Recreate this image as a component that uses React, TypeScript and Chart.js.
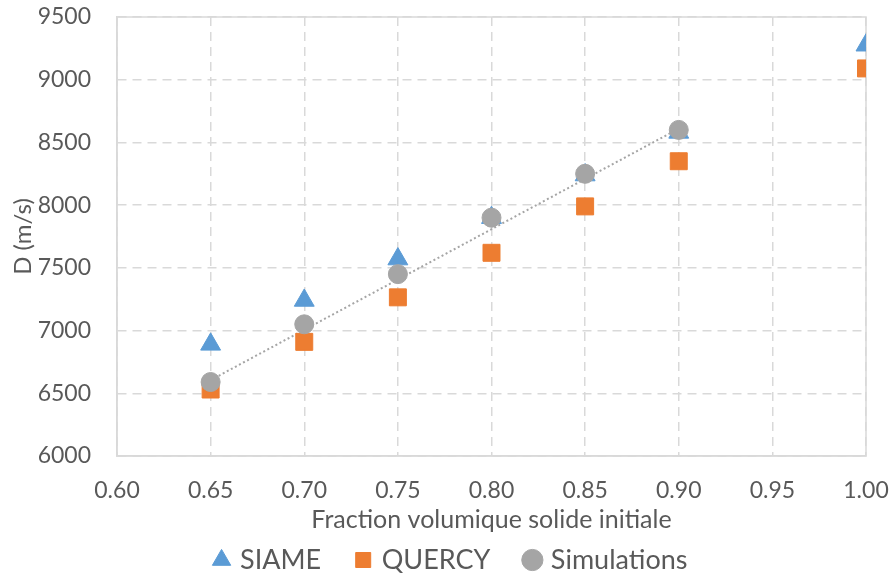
import React, { useEffect, useRef } from "react";
import { Chart, registerables } from "chart.js";

Chart.register(...registerables);

// ---- data ----
const siameX = [0.65, 0.7, 0.75, 0.8, 0.85, 0.9, 1.0];
const siameY = [6890, 7240, 7570, 7900, 8240, 8580, 9275];
const quercyX = [0.65, 0.7, 0.75, 0.8, 0.85, 0.9, 1.0];
const quercyY = [6530, 6910, 7265, 7620, 7990, 8350, 9090];
const simX = [0.65, 0.7, 0.75, 0.8, 0.85, 0.9];
const simY = [6590, 7050, 7450, 7900, 8250, 8600];
const trendX = [0.65, 0.9];
const trendY = [6605, 8610];

const seriesNames = ["SIAME", "QUERCY", "Simulations"];
const xTitle = "Fraction volumique solide initiale";
const yTitle = "D (m/s)";
const xMin = 0.6, xMax = 1.0, xStep = 0.05;
const yMin = 6000, yMax = 9500, yStep = 500;

const BLUE = "#5B9BD5";
const ORANGE = "#ED7D31";
const GREY = "#A5A5A5";
const TEXT = "#595959";
const GRID = "#D9D9D9";
const FONT = "Lato";

const pts = (xs: number[], ys: number[]) => xs.map((x, i) => ({ x, y: ys[i] }));

const frame = {
  id: "frame",
  beforeDatasetsDraw(chart: any) {
    const { ctx, chartArea: a } = chart;
    ctx.save();
    ctx.strokeStyle = GRID;
    ctx.lineWidth = 1.5;
    ctx.setLineDash([]);
    ctx.strokeRect(a.left, a.top, a.right - a.left, a.bottom - a.top);
    ctx.restore();
  },
};

export default function App() {
  const ref = useRef<HTMLCanvasElement>(null);
  useEffect(() => {
    const chart = new Chart(ref.current!, {
      type: "scatter",
      data: {
        datasets: [
          {
            label: "trend",
            data: pts(trendX, trendY),
            showLine: true,
            borderColor: GREY,
            borderWidth: 2,
            borderDash: [2, 2.6],
            pointRadius: 0,
            fill: false,
            order: 10,
          } as any,
          {
            label: seriesNames[0],
            data: pts(siameX, siameY),
            pointStyle: "triangle",
            pointRadius: 11.5,
            backgroundColor: BLUE,
            borderColor: BLUE,
            borderWidth: 1,
            order: 3,
          },
          {
            label: seriesNames[1],
            data: pts(quercyX, quercyY),
            pointStyle: "rect",
            pointRadius: 12,
            backgroundColor: ORANGE,
            borderColor: ORANGE,
            borderWidth: 1,
            order: 2,
          },
          {
            label: seriesNames[2],
            data: pts(simX, simY),
            pointStyle: "circle",
            pointRadius: 9.5,
            backgroundColor: GREY,
            borderColor: GREY,
            borderWidth: 1,
            order: 1,
          },
        ],
      },
      options: {
        animation: false,
        responsive: true,
        maintainAspectRatio: false,
        layout: { padding: { top: 17, right: 27, left: 38, bottom: -7.5 } },
        plugins: {
          tooltip: { enabled: false },
          legend: {
            position: "bottom",
            labels: {
              usePointStyle: true,
              boxWidth: 10,
              boxHeight: 15,
              padding: 37,
              color: TEXT,
              font: { family: FONT, size: 27 },
              filter: (item: any) => item.text !== "trend",
              sort: (a: any, b: any) => a.datasetIndex - b.datasetIndex,
            },
          },
        },
        scales: {
          x: {
            type: "linear",
            min: xMin,
            max: xMax,
            grid: { color: GRID, lineWidth: 1.5, drawTicks: false },
            border: { display: true, color: GRID, width: 1.5, dash: [9, 6] },
            ticks: {
              stepSize: xStep,
              padding: 21,
              color: TEXT,
              font: { family: FONT, size: 23 },
              callback: (v: any) => Number(v).toFixed(2),
            },
            title: {
              display: true,
              text: xTitle,
              color: TEXT,
              font: { family: FONT, size: 25 },
              padding: { top: 0, bottom: -25.5 },
            },
            afterFit: (s: any) => {
              s.height = 53.5;
              s.paddingLeft = 0;
              s.paddingRight = 0;
            },
          },
          y: {
            type: "linear",
            min: yMin,
            max: yMax,
            grid: { color: GRID, lineWidth: 1.5, drawTicks: false },
            border: { display: true, color: GRID, width: 1.5, dash: [9, 6] },
            ticks: {
              stepSize: yStep,
              padding: 26,
              color: TEXT,
              font: { family: FONT, size: 23 },
              callback: (v: any) => String(v),
            },
            title: {
              display: true,
              text: yTitle,
              color: TEXT,
              font: { family: FONT, size: 24 },
              padding: { top: -29.4, bottom: 0 },
            },
            afterFit: (s: any) => {
              s.width = 79;
              s.paddingTop = 0;
              s.paddingBottom = 0;
            },
          },
        },
      },
      plugins: [frame],
    } as any);
    return () => chart.destroy();
  }, []);
  return (
    <div style={{ position: "fixed", left: 0, top: 0, width: 893, height: 576, background: "#fff" }}>
      <canvas ref={ref} />
    </div>
  );
}
